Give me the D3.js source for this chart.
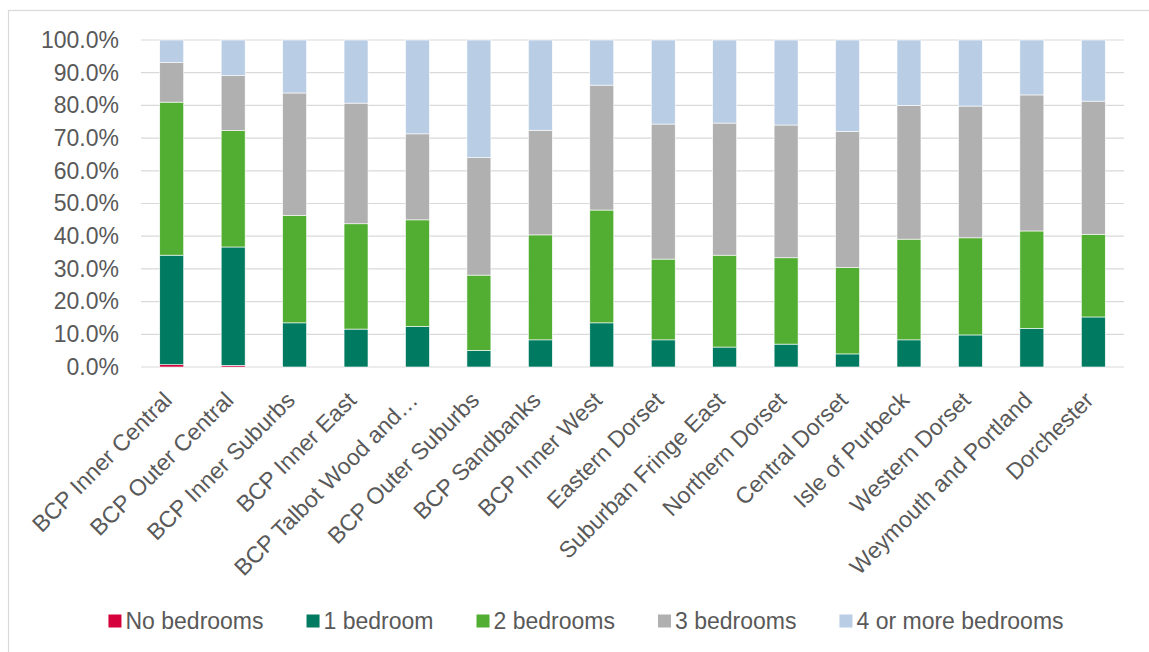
<!DOCTYPE html>
<html>
<head>
<meta charset="utf-8">
<script src="https://cdn.jsdelivr.net/npm/d3@7"></script>
<style>
  body { margin: 0; background: #fff; }
  text { font-family: "Liberation Sans", Arial, sans-serif; fill: #595959; }
</style>
</head>
<body>
<div id="chart"></div>
<script>
const categories = ["BCP Inner Central", "BCP Outer Central", "BCP Inner Suburbs", "BCP Inner East",
  "BCP Talbot Wood and\u2026", "BCP Outer Suburbs", "BCP Sandbanks", "BCP Inner West", "Eastern Dorset",
  "Suburban Fringe East", "Northern Dorset", "Central Dorset", "Isle of Purbeck", "Western Dorset",
  "Weymouth and Portland", "Dorchester"];

const seriesNames = ["No bedrooms", "1 bedroom", "2 bedrooms", "3 bedrooms", "4 or more bedrooms"];
const seriesColors = ["#d6003a", "#007a60", "#52ae32", "#b0b0b0", "#b9cde5"];

const noBedrooms = [0.7, 0.5, 0, 0, 0, 0, 0, 0, 0, 0, 0, 0, 0, 0, 0, 0];
const oneBedroom = [33.5, 36.2, 13.5, 11.6, 12.4, 5.1, 8.3, 13.5, 8.3, 6.1, 7.0, 4.0, 8.3, 9.8, 11.8, 15.3];
const twoBedrooms = [46.8, 35.6, 32.9, 32.2, 32.6, 23.0, 32.1, 34.5, 24.7, 28.1, 26.4, 26.4, 30.8, 29.7, 29.8, 25.3];
const threeBedrooms = [12.1, 16.8, 37.4, 36.9, 26.3, 35.9, 32.0, 38.2, 41.3, 40.4, 40.6, 41.6, 40.9, 40.3, 41.6, 40.7];
const fourPlusBedrooms = [6.9, 10.9, 16.2, 19.3, 28.7, 36.0, 27.6, 13.8, 25.7, 25.4, 26.0, 28.0, 20.0, 20.2, 16.8, 18.7];

const yTicks = [0, 10, 20, 30, 40, 50, 60, 70, 80, 90, 100];

const width = 1149, height = 652;
const margin = { top: 40, left: 141, right: 25, bottom: 285 };

const svg = d3.select("#chart").append("svg")
  .attr("width", width)
  .attr("height", height);

// chart frame (only top and left edges visible)
svg.append("rect")
  .attr("x", 8.5).attr("y", 10.5)
  .attr("width", width + 20).attr("height", height + 20)
  .attr("fill", "none").attr("stroke", "#d9d9d9").attr("stroke-width", 1.2);

const rows = categories.map((c, i) => ({
  name: c,
  "No bedrooms": noBedrooms[i],
  "1 bedroom": oneBedroom[i],
  "2 bedrooms": twoBedrooms[i],
  "3 bedrooms": threeBedrooms[i],
  "4 or more bedrooms": fourPlusBedrooms[i]
}));

const x = d3.scaleBand()
  .domain(categories)
  .range([margin.left, width - margin.right])
  .paddingInner(0.61)
  .paddingOuter(0.305);

const y = d3.scaleLinear()
  .domain([0, 100])
  .range([367, 40]);

const color = d3.scaleOrdinal().domain(seriesNames).range(seriesColors);

// gridlines
svg.append("g")
  .selectAll("line")
  .data(yTicks)
  .join("line")
  .attr("x1", margin.left).attr("x2", width - margin.right)
  .attr("y1", d => y(d)).attr("y2", d => y(d))
  .attr("stroke", "#d9d9d9").attr("stroke-width", 1.2);

// y axis labels
const yAxis = svg.append("g")
  .attr("transform", `translate(${margin.left - 22},0)`)
  .call(d3.axisLeft(y).tickValues(yTicks).tickSize(0).tickFormat(d => d.toFixed(1) + "%"));
yAxis.select(".domain").remove();
yAxis.selectAll("text")
  .attr("x", 0)
  .style("font-size", "23px")
  .style("font-family", "'Liberation Sans', Arial, sans-serif")
  .attr("fill", "#595959");

const stacked = d3.stack().keys(seriesNames)(rows);

svg.append("g")
  .selectAll("g")
  .data(stacked)
  .join("g")
  .attr("fill", d => color(d.key))
  .selectAll("rect")
  .data(d => d)
  .join("rect")
  .attr("x", d => x(d.data.name))
  .attr("width", x.bandwidth())
  .attr("y", d => y(d[1]))
  .attr("height", d => y(d[0]) - y(d[1]))
  .attr("stroke", "#ffffff")
  .attr("stroke-width", 0.6);

// x labels, rotated
svg.append("g")
  .selectAll("text")
  .data(categories)
  .join("text")
  .attr("transform", d => `translate(${x(d) + x.bandwidth() / 2 - 4},396) rotate(-45)`)
  .attr("text-anchor", "end")
  .attr("dy", "0.35em")
  .style("font-size", "23px")
  .text(d => d);

// legend
const legend = svg.append("g");
const items = legend.selectAll("g")
  .data(seriesNames)
  .join("g");
items.append("rect")
  .attr("width", 13).attr("height", 13)
  .attr("y", -6.5)
  .attr("fill", d => color(d));
items.append("text")
  .attr("x", 17)
  .attr("dy", "0.35em")
  .style("font-size", "23px")
  .text(d => d);

let lx = 0;
items.each(function () {
  const g = d3.select(this);
  g.attr("transform", `translate(${lx},0)`);
  lx += 17 + g.select("text").node().getComputedTextLength() + 43;
});
const legendWidth = lx - 43;
legend.attr("transform", `translate(${586 - legendWidth / 2},621)`);
</script>
</body>
</html>
